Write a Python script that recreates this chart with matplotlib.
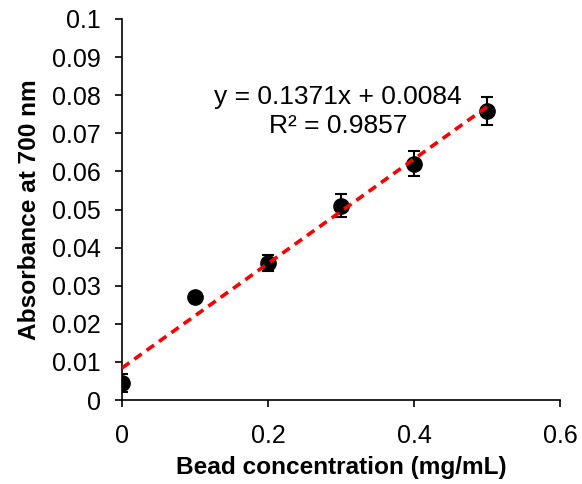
import numpy as np
import matplotlib
matplotlib.use("Agg")
from matplotlib import pyplot as plt

plt.rcParams['font.family'] = ['Liberation Sans', 'DejaVu Sans']

# bead concentration vs absorbance
conc = [0.0, 0.1, 0.2, 0.3, 0.4, 0.5]
absorb = [0.0044, 0.027, 0.036, 0.051, 0.062, 0.0758]
err = [0.0023, 0.0008, 0.0021, 0.0030, 0.0033, 0.0037]
slope = 0.1371
inter = 0.0084

fig = plt.figure(figsize=(5.82, 4.84), dpi=100)
ax = fig.add_axes([122/582, 84/484, 438/582, 381/484])

xfit = np.array([conc[0], conc[-1]])
ax.plot(xfit, slope*xfit + inter, color='#ff0000', ls=(0, (2.5, 1.7)), lw=2.6, zorder=3)
ax.errorbar(conc, absorb, yerr=err, fmt='o', color='black', ms=11,
            ecolor='black', elinewidth=1.5, capsize=4.5, capthick=1.5, zorder=2)

ax.set_xlim(0, 0.6)
ax.set_ylim(0, 0.1)
ax.set_xticks([0, 0.2, 0.4, 0.6])
ax.set_xticklabels(['0', '0.2', '0.4', '0.6'])
ax.set_yticks(np.arange(0, 0.101, 0.01))
ax.set_yticklabels(['0'] + ['%.2f' % v for v in np.arange(0.01, 0.1, 0.01)] + ['0.1'])
ax.spines['top'].set_visible(False)
ax.spines['right'].set_visible(False)
ax.spines['left'].set_linewidth(1.2)
ax.spines['bottom'].set_linewidth(1.2)
ax.tick_params(axis='y', direction='out', length=5, width=1.2, labelsize=18, pad=10)
ax.tick_params(axis='x', direction='out', length=5, width=1.2, labelsize=18, pad=12)

ax.set_xlabel('Bead concentration (mg/mL)', fontsize=17.6, fontweight='bold', labelpad=6)
ax.set_ylabel('Absorbance at 700 nm', fontsize=17.6, fontweight='bold', labelpad=8)

ax.text(0.296, 0.0757, 'y = 0.1371x + 0.0084\nR² = 0.9857', fontsize=19,
        ha='center', va='center', linespacing=1.3)

fig.savefig('out.png', dpi=100)
